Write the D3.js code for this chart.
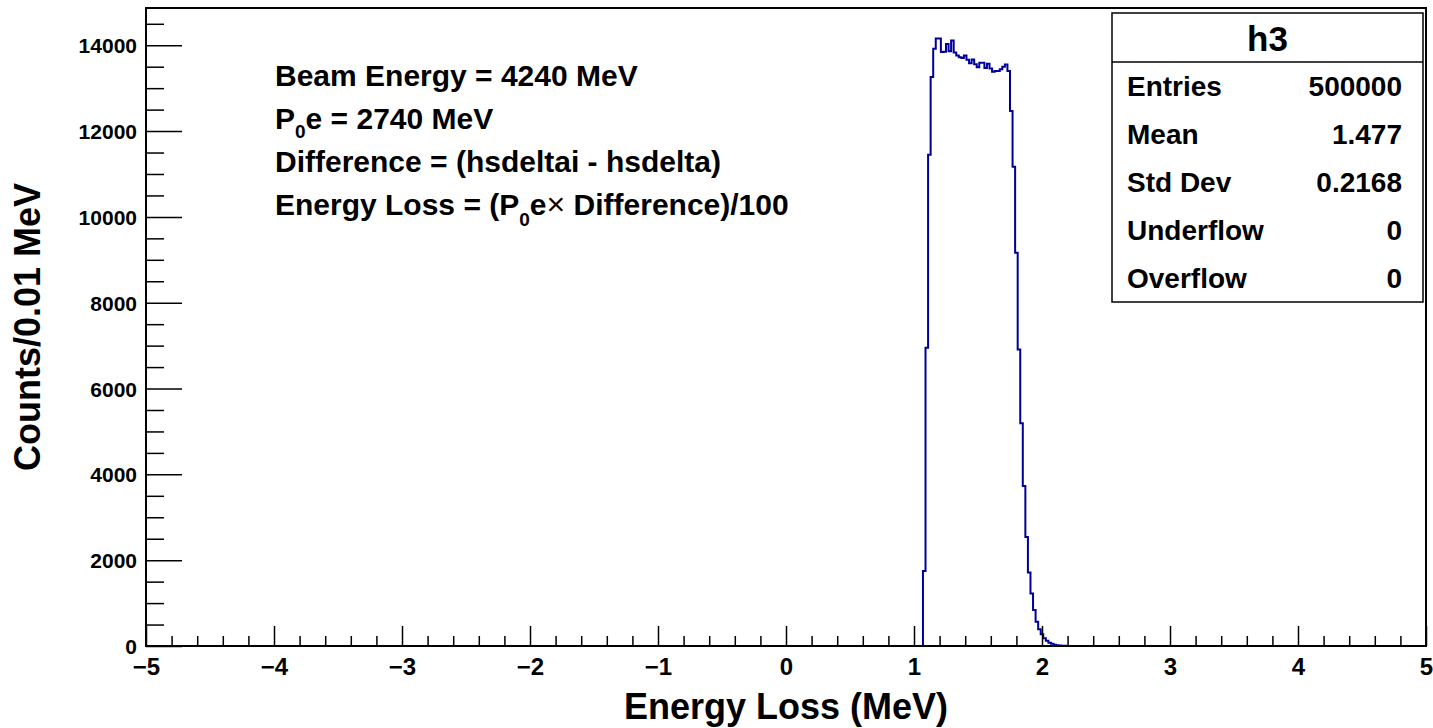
<!DOCTYPE html>
<html>
<head>
<meta charset="utf-8">
<script src="https://cdn.jsdelivr.net/npm/d3@7"></script>
<style>
  body { margin: 0; background: #fff; }
  text { font-family: "Liberation Sans", Arial, Helvetica, sans-serif; font-weight: bold; fill: #000; }
</style>
</head>
<body>
<div id="chart"></div>
<script>
// histogram h3: lower edge of the first filled bin, bin width (MeV) and counts per bin
const binStart = 1.07;
const binWidth = 0.02;
const counts = [
  1750, 6950, 11450, 13260, 13920, 14160, 14160, 13840, 13850, 14030,
  13860, 14110, 13830, 13760, 13720, 13700, 13760, 13660, 13580, 13670,
  13560, 13490, 13590, 13590, 13470, 13570, 13460, 13380, 13400, 13400,
  13440, 13500, 13550, 13400, 12465, 11170, 9163, 6907, 5193, 3728,
  2542, 1714, 1226, 837, 565, 388, 272, 179, 123, 77,
  50, 30, 20, 12, 7, 4, 2, 1
];

const xTicks = [-5, -4, -3, -2, -1, 0, 1, 2, 3, 4, 5];
const yTicks = [0, 2000, 4000, 6000, 8000, 10000, 12000, 14000];

const statsTitle = "h3";
const statsLabels = ["Entries", "Mean", "Std Dev", "Underflow", "Overflow"];
const statsValues = ["500000", "1.477", "0.2168", "0", "0"];

const width = 1433, height = 728;
const frame = { left: 146, right: 1426, top: 8, bottom: 646 };

const svg = d3.select("#chart").append("svg")
  .attr("width", width)
  .attr("height", height);

svg.append("rect").attr("width", width).attr("height", height).attr("fill", "#fff");

const x = d3.scaleLinear().domain([-5, 5]).range([frame.left, frame.right]);
const y = d3.scaleLinear().domain([0, d3.max(counts) * 1.05]).range([frame.bottom, frame.top]);

// histogram outline as steps
const pts = [[binStart, 0]];
counts.forEach((c, i) => {
  pts.push([binStart + i * binWidth, c]);
  pts.push([binStart + (i + 1) * binWidth, c]);
});
pts.push([binStart + counts.length * binWidth, 0]);

svg.append("path")
  .attr("d", d3.line().x(d => x(d[0])).y(d => y(d[1]))(pts))
  .attr("fill", "none")
  .attr("stroke", "#000099")
  .attr("stroke-width", 2);

// minor ticks
const xMinor = d3.range(-5, 5.001, 0.2).filter(v => Math.abs(v - Math.round(v)) > 1e-6);
const yMinor = d3.range(500, 14600, 500).filter(v => v % 2000 !== 0);

svg.append("g")
  .attr("transform", `translate(0,${frame.bottom})`)
  .call(d3.axisBottom(x).tickValues(xMinor).tickSize(-10).tickFormat(""))
  .call(g => g.select(".domain").remove());

svg.append("g")
  .attr("transform", `translate(${frame.left},0)`)
  .call(d3.axisLeft(y).tickValues(yMinor).tickSize(-18).tickFormat(""))
  .call(g => g.select(".domain").remove());

// major ticks with labels
const xAxis = svg.append("g")
  .attr("transform", `translate(0,${frame.bottom})`)
  .call(d3.axisBottom(x).tickValues(xTicks).tickSize(-20).tickPadding(0)
    .tickFormat(d => d < 0 ? "\u2212" + Math.abs(d) : d))
  .call(g => g.select(".domain").remove());
xAxis.selectAll("text").attr("y", 29).attr("dy", 0).style("font-size", "24px");

const yAxis = svg.append("g")
  .attr("transform", `translate(${frame.left},0)`)
  .call(d3.axisLeft(y).tickValues(yTicks).tickSize(-36).tickPadding(9).tickFormat(d3.format("d")))
  .call(g => g.select(".domain").remove());
yAxis.selectAll("text").attr("dy", "0.36em").style("font-size", "21px");

svg.selectAll(".tick line").attr("stroke", "#000").attr("stroke-width", 1.5);
svg.selectAll(".tick text").attr("fill", "#000");

// frame
svg.append("rect")
  .attr("x", frame.left).attr("y", frame.top)
  .attr("width", frame.right - frame.left).attr("height", frame.bottom - frame.top)
  .attr("fill", "none").attr("stroke", "#000").attr("stroke-width", 2);

// axis titles
svg.append("text")
  .attr("x", (frame.left + frame.right) / 2).attr("y", 719)
  .attr("text-anchor", "middle")
  .style("font-size", "36px")
  .text("Energy Loss (MeV)");

svg.append("text")
  .attr("transform", `translate(40,${(frame.top + frame.bottom) / 2}) rotate(-90)`)
  .attr("text-anchor", "middle")
  .style("font-size", "36px")
  .text("Counts/0.01 MeV");

// annotation block
const note = svg.append("g").style("font-size", "30px");
note.append("text").attr("x", 275).attr("y", 86).text("Beam Energy = 4240 MeV");
const l2 = note.append("text").attr("x", 275).attr("y", 129);
l2.append("tspan").text("P");
l2.append("tspan").attr("dy", 9).style("font-size", "19px").text("0");
l2.append("tspan").attr("dy", -9).text("e = 2740 MeV");
note.append("text").attr("x", 275).attr("y", 172).text("Difference = (hsdeltai - hsdelta)");
const l4 = note.append("text").attr("x", 275).attr("y", 215);
l4.append("tspan").text("Energy Loss = (P");
l4.append("tspan").attr("dy", 11).style("font-size", "19px").text("0");
l4.append("tspan").attr("dy", -11).text("e");
l4.append("tspan").style("font-weight", "normal").style("font-size", "32px").text("\u00d7");
l4.append("tspan").text(" Difference)/100");

// stats box
const box = { x: 1112, y: 13, w: 311, h: 289, head: 49 };
const stats = svg.append("g");
stats.append("rect")
  .attr("x", box.x).attr("y", box.y).attr("width", box.w).attr("height", box.h)
  .attr("fill", "#fff").attr("stroke", "#000").attr("stroke-width", 1.5);
stats.append("line")
  .attr("x1", box.x).attr("x2", box.x + box.w)
  .attr("y1", box.y + box.head).attr("y2", box.y + box.head)
  .attr("stroke", "#000").attr("stroke-width", 1.5);
stats.append("text")
  .attr("x", box.x + box.w / 2).attr("y", box.y + 38)
  .attr("text-anchor", "middle").style("font-size", "35px")
  .text(statsTitle);

const rowH = (box.h - box.head) / statsLabels.length;
statsLabels.forEach((lab, i) => {
  const cy = box.y + box.head + rowH * (i + 0.5);
  stats.append("text").attr("x", box.x + 15).attr("y", cy + 10)
    .style("font-size", "28px").text(lab);
  stats.append("text").attr("x", box.x + box.w - 21).attr("y", cy + 10)
    .attr("text-anchor", "end").style("font-size", "28px").text(statsValues[i]);
});
</script>
</body>
</html>
